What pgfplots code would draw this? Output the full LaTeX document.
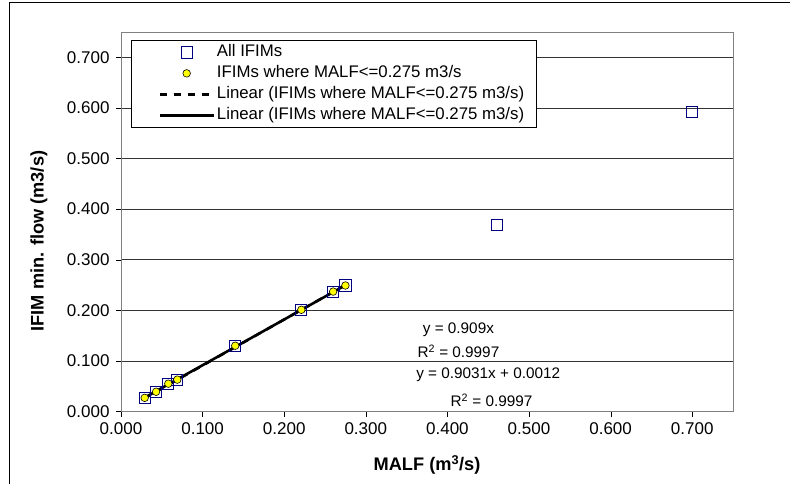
\documentclass[border=0pt]{standalone}
\usepackage{pgfplots}
\pgfplotsset{compat=1.18}
\usepackage{fontspec}
\setmainfont{Liberation Sans}
\definecolor{navyblue}{RGB}{0,0,128}
\definecolor{mkyellow}{RGB}{255,255,0}
\pgfplotsset{
  markleg/.style={legend image code/.code={\path (-17pt,0pt); \draw[##1] plot coordinates {(27pt,0pt)}; \path (54pt,0pt);}},
  lineleg/.style={legend image code/.code={\path (-17pt,0pt); \draw[##1] (0pt,0pt) -- (54pt,0pt);}},
}
\begin{document}
\begin{tikzpicture}
\useasboundingbox (-121pt,-71.5pt) rectangle (669pt,411.5pt);
\draw[black, line width=0.8pt] (-112pt,-72pt) -- (-112pt,409.5pt) -- (670pt,409.5pt);
\begin{axis}[
    at={(0pt,0pt)}, anchor=south west,
    width=612pt, height=379.5pt, scale only axis,
    xmin=0, xmax=0.75, ymin=0, ymax=0.75,
    xtick={0,0.1,...,0.71}, ytick={0,0.1,...,0.71},
    axis line style={black!50},
    separate axis lines,
    ymajorgrids, grid style={black!80, line width=0.8pt},
    tick align=outside, major tick length=5pt,
    tick style={black},
    xtick pos=bottom, ytick pos=left,
    /pgf/number format/assume math mode=true,
    /pgf/number format/.cd, fixed, zerofill, precision=3, /pgfplots/.cd,
    tick label style={font=\fontsize{17}{20}\selectfont},
    xticklabel style={yshift=-3pt},
    yticklabel style={xshift=-3pt},
    xlabel={\textbf{MALF (m\textsuperscript{3}/s)}},
    ylabel={\textbf{IFIM min. flow (m3/s)}},
    label style={font=\fontsize{18.2}{21}\selectfont},
    xlabel style={at={(axis description cs:0.5,-0.14)}, anchor=center},
    ylabel style={at={(axis description cs:-0.134,0.449)}, anchor=center},
    legend style={at={(axis description cs:0.0163,0.979)}, anchor=north west,
      draw=black, line width=0.8pt, fill=white,
      font=\fontsize{16.8}{19}\selectfont, row sep=5pt,
      nodes={text height=12pt, text depth=4pt, inner xsep=2pt, inner ysep=0pt},
      cells={anchor=west}, inner xsep=10pt, inner ysep=4pt},
    legend cell align=left,
]
\addplot[only marks, mark=square, mark size=5.6pt, color=navyblue,
  mark options={draw=navyblue, line width=0.9pt}, markleg]
  coordinates {(0.029,0.027) (0.043,0.039) (0.058,0.055) (0.069,0.063) (0.140,0.130)
   (0.221,0.201) (0.260,0.237) (0.275,0.249) (0.461,0.369) (0.700,0.592)};
\addlegendentry{All IFIMs}
\addplot[only marks, mark=*, mark size=3.8pt, color=black,
  mark options={draw=black, fill=mkyellow, line width=0.6pt}, markleg]
  coordinates {(0.029,0.027) (0.043,0.039) (0.058,0.055) (0.069,0.063) (0.140,0.130)
   (0.221,0.201) (0.260,0.237) (0.275,0.249)};
\addlegendentry{IFIMs where MALF<=0.275 m3/s}
\addplot[black, dash pattern=on 7pt off 7pt, line width=2.6pt, no marks, lineleg]
  coordinates {(0.029,0.0264) (0.275,0.2500)};
\addlegendentry{Linear (IFIMs where MALF<=0.275 m3/s)}
\addplot[black, line width=2.6pt, no marks, lineleg]
  coordinates {(0.029,0.0274) (0.275,0.2496)};
\addlegendentry{Linear (IFIMs where MALF<=0.275 m3/s)}
\node[font=\fontsize{15.3}{18}\selectfont] at (axis cs:0.4135,0.161) {y = 0.909x};
\node[font=\fontsize{15.3}{18}\selectfont] at (axis cs:0.4135,0.119) {R\textsuperscript{2} = 0.9997};
\node[font=\fontsize{15.3}{18}\selectfont] at (axis cs:0.450,0.0723) {y = 0.9031x + 0.0012};
\node[font=\fontsize{15.3}{18}\selectfont] at (axis cs:0.454,0.0228) {R\textsuperscript{2} = 0.9997};
\end{axis}
\end{tikzpicture}
\end{document}
